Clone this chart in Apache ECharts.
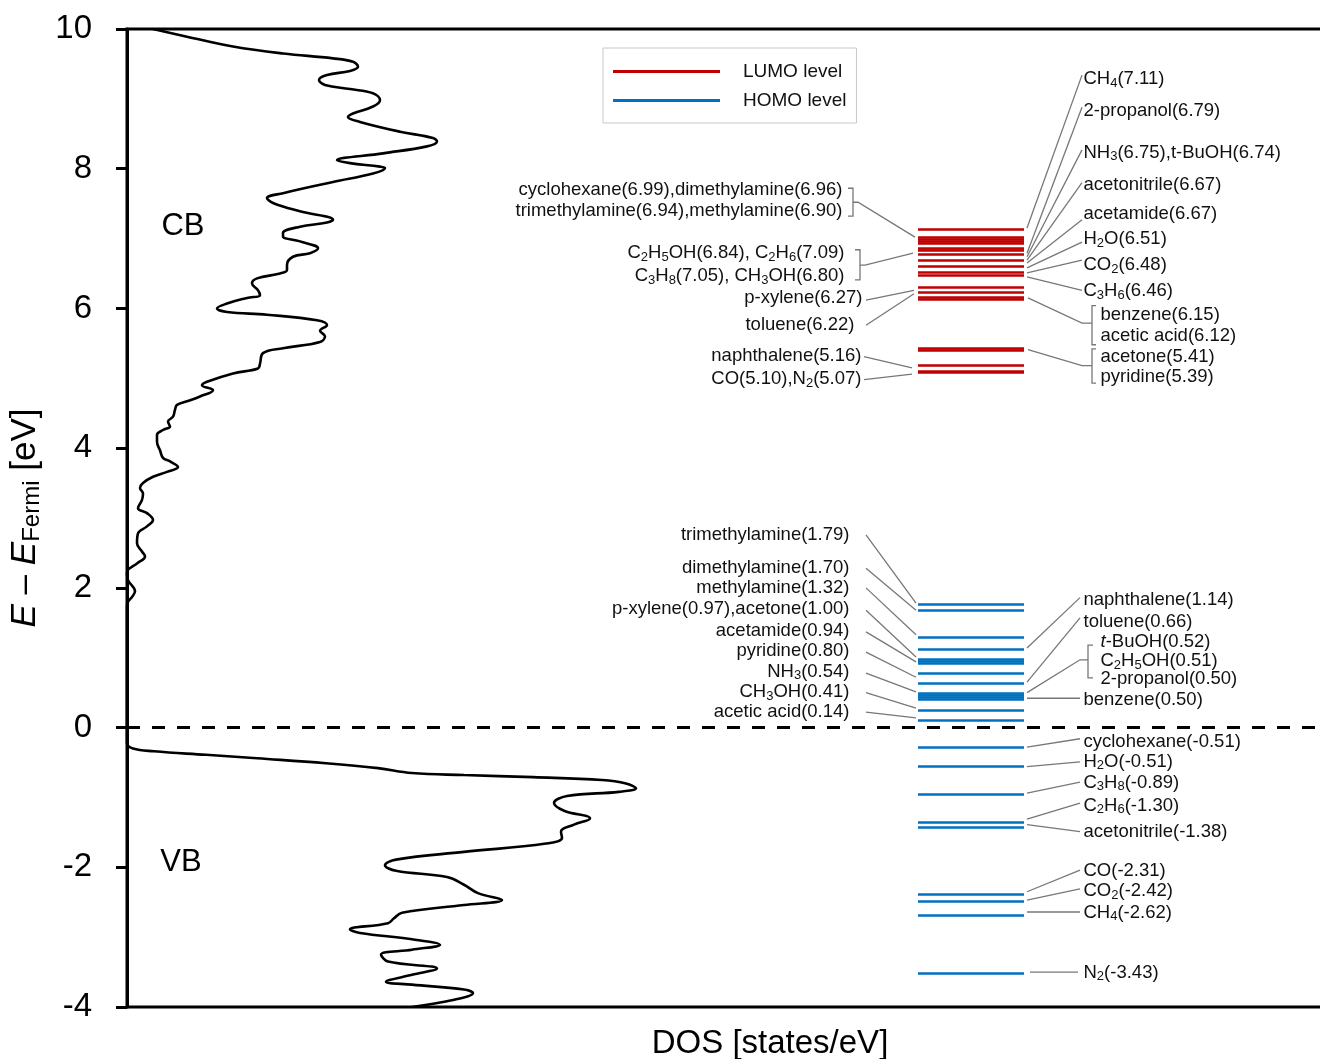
<!DOCTYPE html>
<html><head><meta charset="utf-8">
<script src="https://cdn.jsdelivr.net/npm/echarts@6/dist/echarts.min.js"></script>
<style>html,body{margin:0;padding:0;background:#fff}#c{width:1320px;height:1059px}</style>
</head><body><div id="c"></div>
<script>
// ---------- data ----------
const energyRange = [-4, 10];
const energyStep = 2;
const dosEnergy = [10.00, 9.89, 9.75, 9.65, 9.58, 9.53, 9.46, 9.40, 9.34, 9.27,
  9.20, 9.14, 9.08, 8.98, 8.89, 8.79, 8.74, 8.67, 8.53, 8.44,
  8.39, 8.32, 8.22, 8.12, 8.08, 8.03, 8.01, 7.93, 7.81, 7.65,
  7.58, 7.51, 7.39, 7.27, 7.23, 7.17, 7.08, 7.03, 6.96, 6.86,
  6.79, 6.74, 6.62, 6.55, 6.50, 6.43, 6.36, 6.26, 6.19, 6.15,
  6.07, 6.00, 5.95, 5.91, 5.83, 5.76, 5.68, 5.60, 5.52, 5.43,
  5.36, 5.21, 5.14, 5.07, 4.95, 4.90, 4.83, 4.74, 4.67, 4.62,
  4.55, 4.45, 4.38, 4.31, 4.26, 4.19, 4.09, 3.97, 3.86, 3.81,
  3.73, 3.66, 3.59, 3.50, 3.43, 3.35, 3.26, 3.14, 3.07, 2.97,
  2.88, 2.78, 2.64, 2.52, 2.45, 2.35, 2.26, 2.21, 2.11, 1.95,
  1.87, 1.80, 1.73,
  -0.22, -0.30, -0.34, -0.39, -0.44, -0.51, -0.58, -0.65, -0.68, -0.71,
  -0.75, -0.80, -0.87, -0.92, -0.98, -1.08, -1.19, -1.30, -1.39, -1.49,
  -1.58, -1.66, -1.78, -1.89, -1.97, -2.05, -2.14, -2.25, -2.37, -2.47,
  -2.54, -2.65, -2.73, -2.80, -2.89, -2.94, -3.03, -3.11, -3.18, -3.25,
  -3.35, -3.45, -3.54, -3.64, -3.68, -3.75, -3.80, -3.90, -4.00];
const dosDensity = [2.6, 6.0, 10.6, 15.6, 20.6, 22.6, 23.1, 22.3, 20.0, 19.2,
  19.8, 22.3, 24.6, 25.3, 24.6, 22.6, 22.1, 23.3, 27.3, 30.6,
  31.0, 30.0, 25.6, 21.0, 22.3, 25.3, 25.8, 24.6, 20.6, 15.6,
  14.0, 14.6, 17.3, 20.6, 20.0, 17.3, 15.6, 15.6, 17.3, 19.1,
  18.3, 16.6, 16.0, 16.0, 15.3, 13.0, 12.5, 13.1, 13.3, 12.0,
  10.0, 9.0, 10.0, 14.0, 19.0, 20.0, 19.3, 19.8, 19.3, 15.6,
  13.6, 13.3, 13.1, 10.6, 8.0, 7.5, 8.6, 7.3, 6.0, 5.0,
  4.8, 4.6, 4.1, 4.3, 3.6, 3.0, 3.0, 3.3, 3.6, 4.3,
  5.1, 4.0, 2.6, 1.6, 1.3, 1.6, 1.5, 1.1, 2.0, 2.6,
  2.0, 1.1, 1.0, 1.5, 1.8, 1.0, 0.1, 0, 0.1, 0.8,
  0.5, 0.1, 0,
  0, 0.6, 2.7, 7.9, 13.0, 19.9, 25.1, 28.5, 33.7, 40.6,
  47.5, 49.9, 50.9, 49.2, 44.0, 42.7, 43.7, 46.3, 44.7, 43.4,
  43.5, 41.9, 33.7, 26.9, 25.8, 26.9, 32.0, 33.7, 35.1, 37.5,
  33.7, 27.5, 26.7, 26.1, 22.3, 23.3, 28.5, 31.3, 28.5, 25.4,
  26.1, 31.0, 28.5, 25.9, 28.5, 33.7, 34.6, 32.6, 28.5];
const lumoLevels = [7.14, 7.02, 6.99, 6.96, 6.93, 6.86, 6.83, 6.77, 6.69, 6.61, 6.52, 6.48,
  6.30, 6.23, 6.16, 6.13, 5.43, 5.40, 5.18, 5.10, 5.08];
const homoLevels = [1.76, 1.68, 1.29, 1.12, 0.98, 0.95, 0.92, 0.78, 0.64, 0.49, 0.46, 0.43,
  0.40, 0.25, 0.10, -0.28, -0.56, -0.95, -1.35, -1.43, -2.38, -2.48, -2.69, -3.51];
const seriesNames = ['LUMO level', 'HOMO level'];
const leftLabelText = [
  'cyclohexane(6.99),dimethylamine(6.96)', 'trimethylamine(6.94),methylamine(6.90)',
  'C{s|2}H{s|5}OH(6.84), C{s|2}H{s|6}(7.09)', 'C{s|3}H{s|8}(7.05), CH{s|3}OH(6.80)',
  'p-xylene(6.27)', 'toluene(6.22)', 'naphthalene(5.16)', 'CO(5.10),N{s|2}(5.07)',
  'trimethylamine(1.79)', 'dimethylamine(1.70)', 'methylamine(1.32)', 'p-xylene(0.97),acetone(1.00)',
  'acetamide(0.94)', 'pyridine(0.80)', 'NH{s|3}(0.54)', 'CH{s|3}OH(0.41)', 'acetic acid(0.14)'];
const rightLabelText = [
  'CH{s|4}(7.11)', '2-propanol(6.79)', 'NH{s|3}(6.75),t-BuOH(6.74)', 'acetonitrile(6.67)',
  'acetamide(6.67)', 'H{s|2}O(6.51)', 'CO{s|2}(6.48)', 'C{s|3}H{s|6}(6.46)',
  'benzene(6.15)', 'acetic acid(6.12)', 'acetone(5.41)', 'pyridine(5.39)',
  'naphthalene(1.14)', 'toluene(0.66)', '{i|t}-BuOH(0.52)', 'C{s|2}H{s|5}OH(0.51)', '2-propanol(0.50)',
  'benzene(0.50)', 'cyclohexane(-0.51)', 'H{s|2}O(-0.51)', 'C{s|3}H{s|8}(-0.89)', 'C{s|2}H{s|6}(-1.30)',
  'acetonitrile(-1.38)', 'CO(-2.31)', 'CO{s|2}(-2.42)', 'CH{s|4}(-2.62)', 'N{s|2}(-3.43)'];
const regionText = ['CB', 'VB'];

// ---------- annotation layout (data coordinates: [DOS, E]) ----------
const levelSpan = [79.1, 89.7];
const leftLabelPos = [[71.6, 7.70], [71.6, 7.39], [71.8, 6.79], [71.8, 6.46], [73.6, 6.15], [72.8, 5.76],
  [73.5, 5.32], [73.5, 4.99], [72.3, 2.76], [72.3, 2.28], [72.3, 2.00], [72.3, 1.70], [72.3, 1.38],
  [72.3, 1.10], [72.3, 0.80], [72.3, 0.51], [72.3, 0.22]];
const rightLabelPos = [[95.6, 9.28], [95.6, 8.83], [95.6, 8.23], [95.6, 7.77], [95.6, 7.35], [95.6, 6.99],
  [95.6, 6.62], [95.6, 6.25], [97.3, 5.91], [97.3, 5.61], [97.3, 5.31], [97.3, 5.02],
  [95.6, 1.83], [95.6, 1.51], [97.3, 1.23], [97.3, 0.95], [97.3, 0.70], [95.6, 0.40],
  [95.6, -0.21], [95.6, -0.49], [95.6, -0.79], [95.6, -1.12], [95.6, -1.49], [95.6, -2.05],
  [95.6, -2.34], [95.6, -2.65], [95.6, -3.51]];
const regionPos = [[5.6, 7.18], [5.4, -1.93]];
const leaderPaths = [
  [[72.1, 7.72], [72.6, 7.72], [72.6, 7.32], [72.1, 7.32]],
  [[72.6, 7.52], [73.1, 7.52], [78.8, 7.02]],
  [[72.8, 6.84], [73.3, 6.84], [73.3, 6.41], [72.8, 6.41]],
  [[73.3, 6.62], [73.8, 6.62], [78.6, 6.79]],
  [[73.9, 6.12], [78.7, 6.26]],
  [[73.9, 5.76], [78.7, 6.21]],
  [[73.7, 5.31], [78.5, 5.15]],
  [[73.7, 4.98], [78.5, 5.06]],
  [[73.9, 2.76], [78.9, 1.78]],
  [[73.9, 2.28], [78.9, 1.68]],
  [[73.9, 2.00], [78.9, 1.33]],
  [[73.9, 1.68], [78.9, 1.01]],
  [[73.9, 1.37], [78.9, 0.94]],
  [[73.9, 1.08], [78.9, 0.72]],
  [[73.9, 0.78], [78.9, 0.51]],
  [[73.9, 0.50], [78.9, 0.28]],
  [[73.9, 0.22], [78.9, 0.14]],
  [[90.0, 7.15], [95.5, 9.34]],
  [[90.0, 6.79], [95.5, 8.88]],
  [[90.0, 6.74], [95.5, 8.27]],
  [[90.0, 6.69], [95.5, 7.80]],
  [[90.0, 6.65], [95.5, 7.27]],
  [[90.0, 6.58], [95.5, 6.95]],
  [[90.0, 6.51], [95.5, 6.69]],
  [[90.0, 6.45], [95.5, 6.26]],
  [[90.1, 6.15], [95.5, 5.79], [96.5, 5.79]],
  [[96.9, 6.04], [96.5, 6.04], [96.5, 5.48], [96.9, 5.48]],
  [[90.1, 5.41], [95.5, 5.18], [96.5, 5.18]],
  [[96.9, 5.42], [96.5, 5.42], [96.5, 4.93], [96.9, 4.93]],
  [[90.0, 1.14], [95.3, 1.86]],
  [[90.0, 0.65], [95.3, 1.57]],
  [[90.0, 0.50], [95.3, 0.97], [96.1, 0.97]],
  [[96.6, 1.18], [96.1, 1.18], [96.1, 0.71], [96.6, 0.71]],
  [[90.0, 0.42], [95.3, 0.42]],
  [[90.0, -0.28], [95.3, -0.16]],
  [[90.0, -0.56], [95.3, -0.49]],
  [[90.0, -0.94], [95.3, -0.78]],
  [[90.0, -1.31], [95.3, -1.08]],
  [[90.0, -1.39], [95.3, -1.49]],
  [[90.0, -2.35], [95.3, -2.04]],
  [[90.0, -2.47], [95.3, -2.31]],
  [[90.0, -2.64], [95.3, -2.64]],
  [[90.3, -3.50], [95.1, -3.50]]
];

// ---------- chart ----------
const FONT = '"Liberation Sans", Arial, Helvetica, sans-serif';
const TXT = '#111';
const RED = '#c00000', BLUE = '#0070c0';
const labelRich = {
  s: {fontSize: 13, fontFamily: FONT, color: TXT, padding: [8, 0, 0, 0]},
  i: {fontSize: 18.5, fontFamily: FONT, color: TXT, fontStyle: 'italic'}
};
const levelLines = levels => levels.map(e => ({coords: [[levelSpan[0], e], [levelSpan[1], e]]}));
const textItems = [];
leftLabelText.forEach((t, i) => textItems.push({value: leftLabelPos[i], text: t, label: {position: 'left'}}));
rightLabelText.forEach((t, i) => textItems.push({value: rightLabelPos[i], text: t, label: {position: 'right'}}));
regionText.forEach((t, i) => textItems.push({value: regionPos[i], text: t,
  label: {position: 'inside', fontSize: 31, color: '#000'}}));

const chart = echarts.init(document.getElementById('c'), null, {renderer: 'canvas'});
chart.setOption({
  animation: false,
  backgroundColor: '#fff',
  color: [RED, BLUE],
  grid: {left: 127, top: 29, width: 1286, height: 978, show: true, borderColor: '#000', borderWidth: 3,
    backgroundColor: 'transparent', containLabel: false, outerBoundsMode: 'none'},
  legend: {
    orient: 'vertical', left: 603, top: 48, padding: [14, 10, 13, 10],
    itemWidth: 107, itemHeight: 3, itemGap: 10, selectedMode: false,
    backgroundColor: '#fff', borderColor: '#c8c8c8', borderWidth: 1,
    textStyle: {fontSize: 19, fontFamily: FONT, color: TXT, padding: [0, 0, 0, 18]},
    data: [
      {name: seriesNames[0], icon: 'rect', itemStyle: {color: RED, borderWidth: 0}},
      {name: seriesNames[1], icon: 'rect', itemStyle: {color: BLUE, borderWidth: 0}}
    ]
  },
  xAxis: {
    type: 'value', min: 0, max: 128.6,
    axisLine: {show: false}, axisTick: {show: false}, axisLabel: {show: false}, splitLine: {show: false},
    name: 'DOS [states/eV]', nameLocation: 'middle', nameGap: 20,
    nameTextStyle: {fontSize: 33, fontFamily: FONT, color: '#000'}
  },
  yAxis: {
    type: 'value', min: energyRange[0], max: energyRange[1], interval: energyStep,
    axisLine: {show: true, lineStyle: {color: '#000', width: 3}},
    axisTick: {show: true, inside: false, length: 11, lineStyle: {color: '#000', width: 3}},
    axisLabel: {fontSize: 33, fontFamily: FONT, color: '#000', margin: 35},
    splitLine: {show: false},
    name: '{i|E} – {i|E}{f|Fermi} [eV]', nameLocation: 'middle', nameRotate: 90, nameGap: 67,
    nameTextStyle: {fontSize: 35, fontFamily: FONT, color: '#000',
      rich: {i: {fontSize: 35, fontFamily: FONT, color: '#000', fontStyle: 'italic'},
             f: {fontSize: 24, fontFamily: FONT, color: '#000', padding: [14, 0, 0, 0]}}}
  },
  series: [
    {
      name: seriesNames[0], type: 'lines', coordinateSystem: 'cartesian2d', z: 5, silent: true,
      data: levelLines(lumoLevels), lineStyle: {color: RED, width: 2.6, opacity: 1}
    },
    {
      name: seriesNames[1], type: 'lines', coordinateSystem: 'cartesian2d', z: 5, silent: true,
      data: levelLines(homoLevels), lineStyle: {color: BLUE, width: 2.6, opacity: 1}
    },
    {
      name: 'DOS', type: 'line', z: 3, silent: true,
      data: dosEnergy.map((e, i) => [dosDensity[i], e]),
      showSymbol: false, symbol: 'none', smooth: 0.4,
      lineStyle: {color: '#000', width: 2.6},
      markLine: {
        silent: true, symbol: ['none', 'none'], label: {show: false},
        lineStyle: {type: [13, 12], color: '#000', width: 3},
        data: [{yAxis: 0}]
      }
    },
    {
      name: 'leaders', type: 'lines', coordinateSystem: 'cartesian2d', polyline: true, z: 4, silent: true,
      data: leaderPaths.map(c => ({coords: c})),
      lineStyle: {color: '#777', width: 1.3, opacity: 1}
    },
    {
      name: 'labels', type: 'scatter', z: 6, silent: true,
      symbolSize: 1, itemStyle: {color: 'transparent', opacity: 1},
      data: textItems,
      label: {show: true, opacity: 1, distance: 0, fontSize: 18.5, fontFamily: FONT, color: TXT,
        formatter: p => p.data.text, rich: labelRich}
    }
  ]
});
</script></body></html>
